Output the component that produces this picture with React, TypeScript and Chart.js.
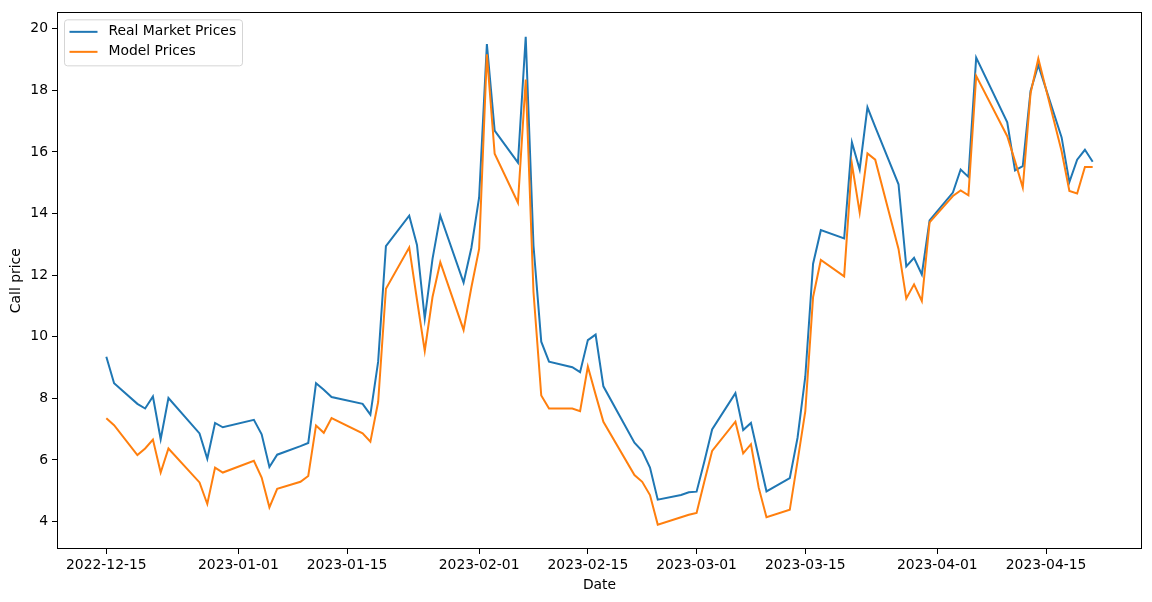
import React, { useEffect, useRef } from "react";
import { Chart, registerables } from "chart.js";

Chart.register(...registerables);

const dates = [
  "2022-12-15", "2022-12-16", "2022-12-19", "2022-12-20", "2022-12-21", "2022-12-22", "2022-12-23", "2022-12-27", "2022-12-28", "2022-12-29", "2022-12-30",
  "2023-01-03", "2023-01-04", "2023-01-05", "2023-01-06", "2023-01-09", "2023-01-10", "2023-01-11", "2023-01-12", "2023-01-13", "2023-01-17", "2023-01-18", "2023-01-19", "2023-01-20", "2023-01-23", "2023-01-24", "2023-01-25", "2023-01-26", "2023-01-27", "2023-01-30", "2023-01-31",
  "2023-02-01", "2023-02-02", "2023-02-03", "2023-02-06", "2023-02-07", "2023-02-08", "2023-02-09", "2023-02-10", "2023-02-13", "2023-02-14", "2023-02-15", "2023-02-16", "2023-02-17", "2023-02-21", "2023-02-22", "2023-02-23", "2023-02-24", "2023-02-27", "2023-02-28",
  "2023-03-01", "2023-03-02", "2023-03-03", "2023-03-06", "2023-03-07", "2023-03-08", "2023-03-09", "2023-03-10", "2023-03-13", "2023-03-14", "2023-03-15", "2023-03-16", "2023-03-17", "2023-03-20", "2023-03-21", "2023-03-22", "2023-03-23", "2023-03-24", "2023-03-27", "2023-03-28", "2023-03-29", "2023-03-30", "2023-03-31",
  "2023-04-03", "2023-04-04", "2023-04-05", "2023-04-06", "2023-04-10", "2023-04-11", "2023-04-12", "2023-04-13", "2023-04-14", "2023-04-17", "2023-04-18", "2023-04-19", "2023-04-20", "2023-04-21",
];

const realPrices = [
  9.35, 8.49, 7.82, 7.67, 8.06, 6.67, 8.01, 6.86, 6.04, 7.20, 7.06,
  7.30, 6.83, 5.77, 6.17, 6.45, 6.55, 8.49, 8.28, 8.04, 7.82, 7.47, 9.19, 12.94, 13.93, 12.98, 10.59, 12.53, 13.93, 11.76, 12.88,
  14.52, 19.50, 16.69, 15.65, 19.74, 12.96, 9.84, 9.19, 9.01, 8.85, 9.89, 10.07, 8.39, 6.56, 6.29, 5.75, 4.71, 4.86, 4.95,
  4.97, 5.95, 6.99, 8.17, 6.97, 7.20, 6.09, 4.98, 5.41, 6.72, 8.71, 12.37, 13.46, 13.19, 16.31, 15.43, 17.45, 16.81, 14.95, 12.28, 12.56, 12.02, 13.78,
  14.68, 15.43, 15.19, 19.06, 16.96, 15.40, 15.54, 17.98, 18.82, 16.47, 15.02, 15.75, 16.07, 15.68,
];

const modelPrices = [
  7.35, 7.13, 6.16, 6.37, 6.66, 5.59, 6.37, 5.27, 4.57, 5.75, 5.59,
  5.97, 5.43, 4.46, 5.06, 5.29, 5.48, 7.12, 6.88, 7.36, 6.86, 6.59, 7.88, 11.56, 12.90, 11.20, 9.54, 11.29, 12.42, 10.22, 11.60,
  12.85, 19.17, 15.94, 14.35, 18.35, 11.45, 8.09, 7.67, 7.67, 7.58, 9.03, 8.12, 7.24, 5.51, 5.29, 4.86, 3.90, 4.14, 4.22,
  4.28, 5.30, 6.29, 7.24, 6.21, 6.51, 5.10, 4.14, 4.38, 5.96, 7.58, 11.29, 12.49, 11.96, 15.61, 14.03, 15.95, 15.75, 12.85, 11.24, 11.70, 11.16, 13.71,
  14.57, 14.75, 14.59, 18.47, 16.51, 15.70, 14.84, 17.90, 19.03, 16.02, 14.73, 14.65, 15.51, 15.51,
];

const xTickLabels = ["2022-12-15", "2023-01-01", "2023-01-15", "2023-02-01", "2023-02-15", "2023-03-01", "2023-03-15", "2023-04-01", "2023-04-15"];
const yTickValues = [4, 6, 8, 10, 12, 14, 16, 18, 20];

const seriesNames = ["Real Market Prices", "Model Prices"];
const seriesColors = ["#1f77b4", "#ff7f0e"];

const FONT = "'DejaVu Sans', sans-serif";
const FS = 13.9;

const dayNum = (s: string) => {
  const [y, m, d] = s.split("-").map(Number);
  return Date.UTC(y, m - 1, d) / 86400000;
};

const framePlugin = {
  id: "frameAndLegend",
  afterDraw(chart: any) {
    const { ctx, chartArea: a } = chart;
    ctx.save();
    ctx.strokeStyle = "#000";
    ctx.lineWidth = 1;
    const l = Math.round(a.left), t = Math.round(a.top), r = Math.round(a.right), b = Math.round(a.bottom);
    ctx.strokeRect(l + 0.5, t + 0.5, r - l - 1, b - t - 1);

    // legend box
    const bx = a.left + 7.5;
    const by = a.top + 7.5;
    const bw = 178;
    const bh = 46;
    ctx.beginPath();
    (ctx as any).roundRect(bx, by, bw, bh, 3);
    ctx.fillStyle = "rgba(255,255,255,0.8)";
    ctx.fill();
    ctx.strokeStyle = "#d5d5d5";
    ctx.lineWidth = 1;
    ctx.stroke();

    ctx.font = `${FS}px ${FONT}`;
    ctx.textBaseline = "middle";
    ctx.textAlign = "left";
    seriesNames.forEach((name, i) => {
      const y = by + 12 + i * 20;
      ctx.beginPath();
      ctx.moveTo(bx + 5, y);
      ctx.lineTo(bx + 33, y);
      ctx.strokeStyle = seriesColors[i];
      ctx.lineWidth = 2;
      ctx.stroke();
      ctx.fillStyle = "#000";
      ctx.fillText(name, bx + 44, y);
    });
    ctx.restore();
  },
};

export default function App() {
  const ref = useRef<HTMLCanvasElement | null>(null);

  useEffect(() => {
    if (!ref.current) return;
    const xs = dates.map(dayNum);
    const first = xs[0];
    const last = xs[xs.length - 1];
    const xSpan = last - first;
    const all = [...realPrices, ...modelPrices];
    const yLo = Math.min(...all);
    const yHi = Math.max(...all);
    const ySpan = yHi - yLo;
    const xTickValues = xTickLabels.map(dayNum);

    const chart = new Chart(ref.current, {
      type: "line",
      data: {
        datasets: [
          {
            label: seriesNames[0],
            data: xs.map((x, i) => ({ x, y: realPrices[i] })),
            borderColor: seriesColors[0],
            backgroundColor: seriesColors[0],
            borderWidth: 2,
            pointRadius: 0,
            tension: 0,
            fill: false,
            order: 1,
          },
          {
            label: seriesNames[1],
            data: xs.map((x, i) => ({ x, y: modelPrices[i] })),
            borderColor: seriesColors[1],
            backgroundColor: seriesColors[1],
            borderWidth: 2,
            pointRadius: 0,
            tension: 0,
            fill: false,
            order: 0,
          },
        ],
      },
      options: {
        animation: false,
        responsive: false,
        devicePixelRatio: 1,
        layout: { padding: { left: 0, right: 10, top: 10, bottom: 0 } },
        plugins: {
          legend: { display: false },
          tooltip: { enabled: false },
        },
        scales: {
          x: {
            type: "linear",
            min: first - 0.05 * xSpan,
            max: last + 0.05 * xSpan,
            afterBuildTicks: (scale: any) => {
              scale.ticks = xTickValues.map((v) => ({ value: v }));
            },
            afterFit: (scale: any) => {
              scale.height = 53;
            },
            ticks: {
              autoSkip: false,
              maxRotation: 0,
              color: "#000",
              padding: 3,
              font: { family: FONT, size: FS },
              callback: (_v: any, i: number) => xTickLabels[i],
            },
            grid: { display: true, drawOnChartArea: false, drawTicks: true, tickLength: 5, color: "#000" },
            border: { display: false },
            title: {
              display: true,
              text: "Date",
              color: "#000",
              font: { family: FONT, size: FS },
              padding: { top: 0, bottom: 8 },
            },
          },
          y: {
            type: "linear",
            min: yLo - 0.05 * ySpan,
            max: yHi + 0.05 * ySpan,
            afterBuildTicks: (scale: any) => {
              scale.ticks = yTickValues.map((v) => ({ value: v }));
            },
            afterFit: (scale: any) => {
              scale.width = 57;
            },
            ticks: {
              color: "#000",
              padding: 4,
              font: { family: FONT, size: FS },
              callback: (v: any) => String(v),
            },
            grid: { display: true, drawOnChartArea: false, drawTicks: true, tickLength: 5, color: "#000" },
            border: { display: false },
            title: {
              display: true,
              text: "Call price",
              color: "#000",
              font: { family: FONT, size: FS },
              padding: { top: 8, bottom: 0 },
            },
          },
        },
      },
      plugins: [framePlugin],
    } as any);

    return () => chart.destroy();
  }, []);

  return (
    <div style={{ position: "fixed", left: 0, top: 0, width: 1152, height: 602, background: "#fff" }}>
      <canvas ref={ref} width={1152} height={602} style={{ width: 1152, height: 602, display: "block" }} />
    </div>
  );
}
